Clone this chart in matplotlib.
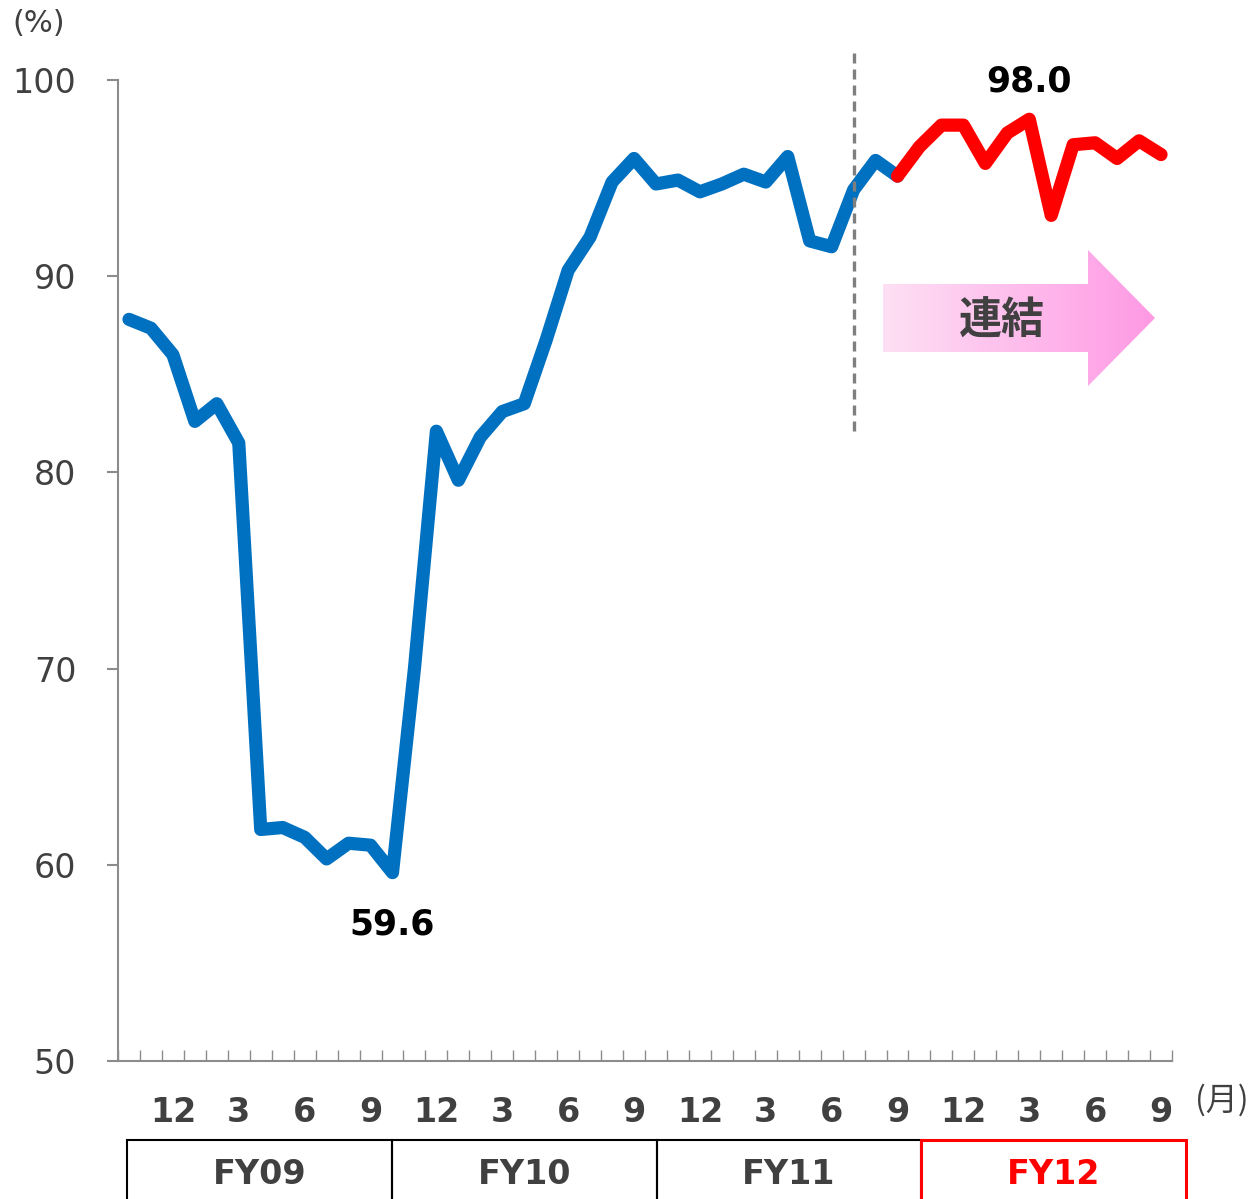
import matplotlib
matplotlib.use("Agg")
import matplotlib.pyplot as plt
import matplotlib.transforms as mtransforms
from matplotlib.colors import LinearSegmentedColormap
from matplotlib.patches import Polygon, Rectangle
import numpy as np

plt.rcParams['font.family'] = ['DejaVu Sans', 'Noto Sans CJK JP']

# monthly utilisation (%), fiscal year starts in October
months = [10, 11, 12, 1, 2, 3, 4, 5, 6, 7, 8, 9] * 4
rate_single = [87.8, 87.35, 86.0, 82.6, 83.5, 81.5, 61.8, 61.9, 61.4, 60.3, 61.1, 61.0,
               59.6, 70.0, 82.1, 79.6, 81.8, 83.1, 83.5, 86.75, 90.3, 92.0, 94.8, 96.0,
               94.7, 94.9, 94.3, 94.7, 95.2, 94.8, 96.1, 91.8, 91.5, 94.4, 95.9, 95.1]
# consolidated basis from Sep FY11 onward
rate_consol = [95.1, 96.6, 97.7, 97.7, 95.75, 97.3, 98.0, 93.1, 96.7, 96.8, 96.0, 96.9, 96.2]
fiscal_years = ['FY09', 'FY10', 'FY11', 'FY12']
consol_start = len(rate_single) - 1
basis_change = 33

W, H = 1255, 1199
fig = plt.figure(figsize=(W / 100, H / 100), dpi=100)
ax = fig.add_axes([118 / W, 1 - 1061 / H, (1172 - 118) / W, 981 / H])

x_single = np.arange(len(rate_single))
x_consol = np.arange(consol_start, consol_start + len(rate_consol))

ax.plot(x_single, rate_single, color='#0070C0', lw=9.5, solid_capstyle='round',
        solid_joinstyle='round', zorder=3)
ax.plot(x_consol, rate_consol, color='#FF0000', lw=9.5, solid_capstyle='round',
        solid_joinstyle='round', zorder=4)

# basis change marker
ax.plot([basis_change, basis_change], [82.1, 101.4], color='#7f7f7f', lw=2.4,
        linestyle=(0, (3, 1.8)), clip_on=False, zorder=5)

# min / max labels
i_min = int(np.argmin(rate_single))
ax.annotate(f'{rate_single[i_min]:.1f}', (x_single[i_min], rate_single[i_min]),
            xytext=(0, -37), textcoords='offset points', ha='center', va='center',
            fontsize=25, fontweight='bold', color='black')
i_max = int(np.argmax(rate_consol))
ax.annotate(f'{rate_consol[i_max]:.1f}', (x_consol[i_max], rate_consol[i_max]),
            xytext=(0, 27), textcoords='offset points', ha='center', va='center',
            fontsize=25, fontweight='bold', color='black')

ax.set_xlim(-0.5, len(months) - 0.5)
ax.set_ylim(50, 100)
ax.set_yticks(range(50, 101, 10))

label_pos = [i for i, m in enumerate(months) if m in (12, 3, 6, 9)]
ax.set_xticks(label_pos)
ax.set_xticklabels([str(months[i]) for i in label_pos], fontweight='bold')
ax.set_xticks(np.arange(-0.5, len(months)), minor=True)

grey = '#8c8c8c'
for s in ['top', 'right']:
    ax.spines[s].set_visible(False)
for s in ['left', 'bottom']:
    ax.spines[s].set_color(grey)
    ax.spines[s].set_linewidth(1.5)
ax.tick_params(axis='y', length=8, width=1.5, color=grey, pad=22,
               labelsize=24, labelcolor='#404040')
ax.tick_params(axis='x', which='major', length=0, pad=25,
               labelsize=24, labelcolor='#404040')
ax.tick_params(axis='x', which='minor', direction='in', length=8, width=1, color=grey)

# fiscal year boxes under the month labels
trans = mtransforms.blended_transform_factory(ax.transData, ax.transAxes)
for k, fy in enumerate(fiscal_years):
    left = -0.09 + 12.06 * k
    ec = '#FF0000' if fy == 'FY12' else 'black'
    lw = 2.2 if fy == 'FY12' else 1.5
    ax.add_patch(Rectangle((left, -0.15), 12.06, 0.0695, transform=trans,
                           fill=False, edgecolor=ec, lw=lw, clip_on=False,
                           zorder=6 if fy == 'FY12' else 5))
    ax.text(left + 6.03, -0.1152, fy, transform=trans, ha='center', va='center',
            fontsize=24, fontweight='bold',
            color='#FF0000' if fy == 'FY12' else '#404040')

fig.text(39 / W, 1 - 24 / H, '(%)', ha='center', va='center', fontsize=22, color='#404040')
fig.text(1222 / W, 1 - 1100 / H, '(月)', ha='center', va='center', fontsize=23,
         color='#404040', family=['Noto Sans CJK JP', 'DejaVu Sans'])

# gradient arrow for the consolidated period
ov = fig.add_axes([0, 0, 1, 1], zorder=10)
ov.set_xlim(0, W)
ov.set_ylim(H, 0)
ov.axis('off')
arrow = Polygon([(883, 284), (1088, 284), (1088, 250), (1155, 318), (1088, 386),
                 (1088, 352), (883, 352)], closed=True, facecolor='none', edgecolor='none')
ov.add_patch(arrow)
cmap = LinearSegmentedColormap.from_list('pink', ['#FDE0F4', '#FF99E4'])
grad = np.linspace(0, 1, 256).reshape(1, -1)
im = ov.imshow(grad, extent=[883, 1155, 386, 250], cmap=cmap, aspect='auto')
im.set_clip_path(arrow)
ov.text(1002, 321, '連結', ha='center', va='center', fontsize=31, fontweight='bold',
        color='#404040', family=['Noto Sans CJK JP', 'DejaVu Sans'])
ov.set_xlim(0, W)
ov.set_ylim(H, 0)

fig.savefig('out.png', dpi=100)
